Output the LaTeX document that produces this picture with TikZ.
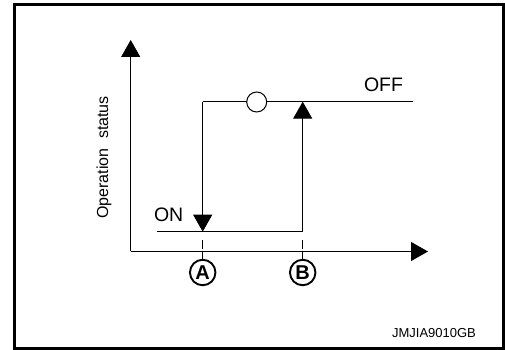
\documentclass[tikz,border=0pt]{standalone}
\usepackage{fontspec}
\setmainfont{Liberation Sans}
\usepackage{tikz}
\usetikzlibrary{arrows.meta}

\begin{document}
\begin{tikzpicture}[x=1pt, y=1pt, line width=1.1pt,
    arrowhead/.style={-{Triangle[width=19pt, length=17pt]}},
    pointmark/.style={draw, circle, line width=1.9pt, minimum size=25.5pt, inner sep=0pt, font=\fontsize{20}{22}\selectfont\bfseries},
    lbl/.style={inner sep=0pt, font=\fontsize{19.5}{22}\selectfont}]
    \useasboundingbox (0, 0) rectangle (505, 350);
    \draw [line width=3pt] (14.5, 1.5) rectangle (503.5, 345.5);

    \coordinate (o) at (130.7, 98.5);
    \coordinate (ytip) at (130.7, 310);
    \coordinate (xtip) at (428, 98.5);
    \draw [arrowhead] (o) -- (ytip);
    \draw [arrowhead] (o) -- (xtip);

    \coordinate (offA) at (202.7, 248.3);
    \coordinate (offB) at (302.7, 248.3);
    \coordinate (offend) at (413.3, 248.3);
    \coordinate (onstart) at (156.7, 118.3);
    \coordinate (onA) at (202.7, 118.3);
    \coordinate (onB) at (302.7, 118.3);
    \draw (offA) -- (offend);
    \draw (onstart) -- (onB);
    \draw [arrowhead] (offA) -- (onA);
    \draw [arrowhead] (onB) -- (offB);

    \node [draw, circle, fill=white, line width=1pt, minimum size=20pt, inner sep=0pt] (c) at (256.7, 248) {};

    \node [pointmark] (a) at (202.7, 77.5) {A};
    \node [pointmark] (b) at (302.7, 77.5) {B};
    \draw [dash pattern=on 8pt off 1.5pt on 9pt off 10pt] (a) -- (onA);
    \draw [dash pattern=on 8pt off 1.5pt on 9pt off 10pt] (b) -- (onB);

    \node [lbl, anchor=base west] (on) at (153.5, 128.3) {ON};
    \node [lbl, anchor=base west] (off) at (363.5, 258.3) {OFF};
    \node [inner sep=0pt, rotate=90, font=\fontsize{16}{19}\selectfont] (status) at (104, 192.5) {Operation\hspace{0.6em}status};
    \node [inner sep=0pt, font=\fontsize{13}{15}\selectfont] (code) at (434, 17) {JMJIA9010GB};
\end{tikzpicture}
\end{document}
